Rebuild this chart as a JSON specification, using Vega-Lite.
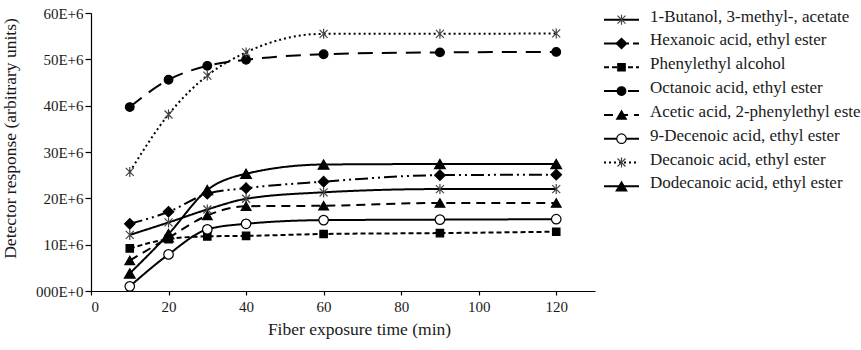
{
  "$schema": "https://vega.github.io/schema/vega-lite/v6.json",
  "padding": {"left": 0, "top": 6, "right": 0, "bottom": 4},
  "spacing": 8,
  "config": {
    "view": {"stroke": null},
    "font": "'Liberation Serif', 'DejaVu Serif', serif",
    "text": {"font": "'Liberation Serif', 'DejaVu Serif', serif"},
    "axis": {
      "labelFont": "'Liberation Serif', 'DejaVu Serif', serif",
      "titleFont": "'Liberation Serif', 'DejaVu Serif', serif",
      "labelFontSize": 15,
      "titleFontSize": 17.5,
      "titleFontWeight": "normal",
      "labelColor": "#1a1a1a",
      "titleColor": "#1a1a1a",
      "domainColor": "#000000",
      "domainWidth": 1.2,
      "tickColor": "#000000",
      "tickWidth": 1.2,
      "grid": false
    }
  },
  "datasets": {
    "measurements": [
      {"series": "1-Butanol, 3-methyl-, acetate", "time": 10, "response": 12100000},
      {"series": "1-Butanol, 3-methyl-, acetate", "time": 20, "response": 14800000},
      {"series": "1-Butanol, 3-methyl-, acetate", "time": 30, "response": 17600000},
      {"series": "1-Butanol, 3-methyl-, acetate", "time": 40, "response": 19900000},
      {"series": "1-Butanol, 3-methyl-, acetate", "time": 60, "response": 21300000},
      {"series": "1-Butanol, 3-methyl-, acetate", "time": 90, "response": 22000000},
      {"series": "1-Butanol, 3-methyl-, acetate", "time": 120, "response": 22000000},
      {"series": "Hexanoic acid, ethyl ester", "time": 10, "response": 14500000},
      {"series": "Hexanoic acid, ethyl ester", "time": 20, "response": 17100000},
      {"series": "Hexanoic acid, ethyl ester", "time": 30, "response": 21000000},
      {"series": "Hexanoic acid, ethyl ester", "time": 40, "response": 22200000},
      {"series": "Hexanoic acid, ethyl ester", "time": 60, "response": 23600000},
      {"series": "Hexanoic acid, ethyl ester", "time": 90, "response": 25000000},
      {"series": "Hexanoic acid, ethyl ester", "time": 120, "response": 25100000},
      {"series": "Phenylethyl alcohol", "time": 10, "response": 9200000},
      {"series": "Phenylethyl alcohol", "time": 20, "response": 11200000},
      {"series": "Phenylethyl alcohol", "time": 30, "response": 11800000},
      {"series": "Phenylethyl alcohol", "time": 40, "response": 11900000},
      {"series": "Phenylethyl alcohol", "time": 60, "response": 12300000},
      {"series": "Phenylethyl alcohol", "time": 90, "response": 12500000},
      {"series": "Phenylethyl alcohol", "time": 120, "response": 12800000},
      {"series": "Octanoic acid, ethyl ester", "time": 10, "response": 39700000},
      {"series": "Octanoic acid, ethyl ester", "time": 20, "response": 45600000},
      {"series": "Octanoic acid, ethyl ester", "time": 30, "response": 48600000},
      {"series": "Octanoic acid, ethyl ester", "time": 40, "response": 49900000},
      {"series": "Octanoic acid, ethyl ester", "time": 60, "response": 51100000},
      {"series": "Octanoic acid, ethyl ester", "time": 90, "response": 51500000},
      {"series": "Octanoic acid, ethyl ester", "time": 120, "response": 51600000},
      {"series": "Acetic acid, 2-phenylethyl ester", "time": 10, "response": 6600000},
      {"series": "Acetic acid, 2-phenylethyl ester", "time": 20, "response": 11500000},
      {"series": "Acetic acid, 2-phenylethyl ester", "time": 30, "response": 16300000},
      {"series": "Acetic acid, 2-phenylethyl ester", "time": 40, "response": 18300000},
      {"series": "Acetic acid, 2-phenylethyl ester", "time": 60, "response": 18400000},
      {"series": "Acetic acid, 2-phenylethyl ester", "time": 90, "response": 19000000},
      {"series": "Acetic acid, 2-phenylethyl ester", "time": 120, "response": 19000000},
      {"series": "9-Decenoic acid, ethyl ester", "time": 10, "response": 1000000},
      {"series": "9-Decenoic acid, ethyl ester", "time": 20, "response": 7900000},
      {"series": "9-Decenoic acid, ethyl ester", "time": 30, "response": 13300000},
      {"series": "9-Decenoic acid, ethyl ester", "time": 40, "response": 14500000},
      {"series": "9-Decenoic acid, ethyl ester", "time": 60, "response": 15300000},
      {"series": "9-Decenoic acid, ethyl ester", "time": 90, "response": 15400000},
      {"series": "9-Decenoic acid, ethyl ester", "time": 120, "response": 15500000},
      {"series": "Decanoic acid, ethyl ester", "time": 10, "response": 25700000},
      {"series": "Decanoic acid, ethyl ester", "time": 20, "response": 38100000},
      {"series": "Decanoic acid, ethyl ester", "time": 30, "response": 46500000},
      {"series": "Decanoic acid, ethyl ester", "time": 40, "response": 51500000},
      {"series": "Decanoic acid, ethyl ester", "time": 60, "response": 55500000},
      {"series": "Decanoic acid, ethyl ester", "time": 90, "response": 55500000},
      {"series": "Decanoic acid, ethyl ester", "time": 120, "response": 55600000},
      {"series": "Dodecanoic acid, ethyl ester", "time": 10, "response": 3800000},
      {"series": "Dodecanoic acid, ethyl ester", "time": 20, "response": 12300000},
      {"series": "Dodecanoic acid, ethyl ester", "time": 30, "response": 21800000},
      {"series": "Dodecanoic acid, ethyl ester", "time": 40, "response": 25300000},
      {"series": "Dodecanoic acid, ethyl ester", "time": 60, "response": 27300000},
      {"series": "Dodecanoic acid, ethyl ester", "time": 90, "response": 27400000},
      {"series": "Dodecanoic acid, ethyl ester", "time": 120, "response": 27400000}
    ]
  },
  "hconcat": [
    {
      "width": 504,
      "height": 278,
      "data": {"name": "measurements"},
      "encoding": {
        "x": {
          "field": "time",
          "type": "quantitative",
          "scale": {"domain": [0, 130], "nice": false, "zero": false},
          "axis": {
            "title": "Fiber exposure time (min)",
            "values": [0, 20, 40, 60, 80, 100, 120],
            "tickSize": 4,
            "labelPadding": 4,
            "titlePadding": 6,
            "titleX": 268
          }
        },
        "y": {
          "field": "response",
          "type": "quantitative",
          "scale": {"domain": [0, 60000000], "nice": false},
          "axis": {
            "title": "Detector response (arbitrary units)",
            "values": [0, 10000000, 20000000, 30000000, 40000000, 50000000, 60000000],
            "labelExpr": "datum.value === 0 ? '000E+0' : format(datum.value / 1000000, 'd') + 'E+6'",
            "tickSize": 6,
            "labelPadding": 2,
            "titleX": -81,
            "titleY": 125,
            "titleBaseline": "middle"
          }
        }
      },
      "layer": [
        {
          "mark": {"type": "line", "interpolate": "monotone", "color": "#000000", "strokeWidth": 2},
          "encoding": {
            "detail": {"field": "series"},
            "strokeDash": {
              "field": "series",
              "legend": null,
              "scale": {
                "domain": ["1-Butanol, 3-methyl-, acetate", "Hexanoic acid, ethyl ester", "Phenylethyl alcohol", "Octanoic acid, ethyl ester", "Acetic acid, 2-phenylethyl ester", "9-Decenoic acid, ethyl ester", "Decanoic acid, ethyl ester", "Dodecanoic acid, ethyl ester"],
                "range": [[1, 0], [13, 4, 2, 4, 2, 4], [5, 3], [15, 9], [9, 6], [1, 0], [2, 3], [1, 0]]
              }
            }
          }
        },
        {
          "mark": {"type": "point", "strokeWidth": 1.2, "opacity": 1},
          "encoding": {
            "shape": {
              "field": "series",
              "legend": null,
              "scale": {
                "domain": ["1-Butanol, 3-methyl-, acetate", "Hexanoic acid, ethyl ester", "Phenylethyl alcohol", "Octanoic acid, ethyl ester", "Acetic acid, 2-phenylethyl ester", "9-Decenoic acid, ethyl ester", "Decanoic acid, ethyl ester", "Dodecanoic acid, ethyl ester"],
                "range": ["M-0.8,-0.8L0.8,0.8M-0.8,0.8L0.8,-0.8M0,-1L0,1", "diamond", "square", "circle", "triangle-up", "circle", "M-0.8,-0.8L0.8,0.8M-0.8,0.8L0.8,-0.8M0,-1L0,1", "triangle-up"]
              }
            },
            "fill": {
              "field": "series",
              "legend": null,
              "scale": {
                "domain": ["1-Butanol, 3-methyl-, acetate", "Hexanoic acid, ethyl ester", "Phenylethyl alcohol", "Octanoic acid, ethyl ester", "Acetic acid, 2-phenylethyl ester", "9-Decenoic acid, ethyl ester", "Decanoic acid, ethyl ester", "Dodecanoic acid, ethyl ester"],
                "range": ["transparent", "#000000", "#000000", "#000000", "#000000", "#ffffff", "transparent", "#000000"]
              }
            },
            "stroke": {
              "field": "series",
              "legend": null,
              "scale": {
                "domain": ["1-Butanol, 3-methyl-, acetate", "Hexanoic acid, ethyl ester", "Phenylethyl alcohol", "Octanoic acid, ethyl ester", "Acetic acid, 2-phenylethyl ester", "9-Decenoic acid, ethyl ester", "Decanoic acid, ethyl ester", "Dodecanoic acid, ethyl ester"],
                "range": ["#444444", "#000000", "#000000", "#000000", "#000000", "#000000", "#444444", "#000000"]
              }
            },
            "size": {
              "field": "series",
              "legend": null,
              "scale": {
                "type": "ordinal",
                "domain": ["1-Butanol, 3-methyl-, acetate", "Hexanoic acid, ethyl ester", "Phenylethyl alcohol", "Octanoic acid, ethyl ester", "Acetic acid, 2-phenylethyl ester", "9-Decenoic acid, ethyl ester", "Decanoic acid, ethyl ester", "Dodecanoic acid, ethyl ester"],
                "range": [100, 110, 55, 75, 95, 90, 100, 115]
              }
            }
          }
        }
      ]
    },
    {
      "width": 35,
      "height": 180,
      "data": {"name": "measurements"},
      "transform": [{"filter": "datum.time === 120"}],
      "encoding": {
        "y": {
          "field": "series",
          "type": "nominal",
          "sort": ["1-Butanol, 3-methyl-, acetate", "Hexanoic acid, ethyl ester", "Phenylethyl alcohol", "Octanoic acid, ethyl ester", "Acetic acid, 2-phenylethyl ester", "9-Decenoic acid, ethyl ester", "Decanoic acid, ethyl ester", "Dodecanoic acid, ethyl ester"],
          "scale": {"type": "point", "padding": 0.28},
          "axis": null
        }
      },
      "layer": [
        {
          "mark": {"type": "rule", "color": "#000000", "strokeWidth": 2},
          "encoding": {
            "x": {"datum": 0, "type": "quantitative", "scale": {"domain": [0, 1], "nice": false}, "axis": null},
            "x2": {"datum": 1},
            "strokeDash": {
              "field": "series",
              "legend": null,
              "scale": {
                "domain": ["1-Butanol, 3-methyl-, acetate", "Hexanoic acid, ethyl ester", "Phenylethyl alcohol", "Octanoic acid, ethyl ester", "Acetic acid, 2-phenylethyl ester", "9-Decenoic acid, ethyl ester", "Decanoic acid, ethyl ester", "Dodecanoic acid, ethyl ester"],
                "range": [[1, 0], [13, 4, 2, 4, 2, 4], [5, 3], [15, 9], [9, 6], [1, 0], [2, 3], [1, 0]]
              }
            }
          }
        },
        {
          "mark": {"type": "point", "strokeWidth": 1.2, "opacity": 1},
          "encoding": {
            "x": {"datum": 0.5, "type": "quantitative"},
            "shape": {
              "field": "series",
              "legend": null,
              "scale": {
                "domain": ["1-Butanol, 3-methyl-, acetate", "Hexanoic acid, ethyl ester", "Phenylethyl alcohol", "Octanoic acid, ethyl ester", "Acetic acid, 2-phenylethyl ester", "9-Decenoic acid, ethyl ester", "Decanoic acid, ethyl ester", "Dodecanoic acid, ethyl ester"],
                "range": ["M-0.8,-0.8L0.8,0.8M-0.8,0.8L0.8,-0.8M0,-1L0,1", "diamond", "square", "circle", "triangle-up", "circle", "M-0.8,-0.8L0.8,0.8M-0.8,0.8L0.8,-0.8M0,-1L0,1", "triangle-up"]
              }
            },
            "fill": {
              "field": "series",
              "legend": null,
              "scale": {
                "domain": ["1-Butanol, 3-methyl-, acetate", "Hexanoic acid, ethyl ester", "Phenylethyl alcohol", "Octanoic acid, ethyl ester", "Acetic acid, 2-phenylethyl ester", "9-Decenoic acid, ethyl ester", "Decanoic acid, ethyl ester", "Dodecanoic acid, ethyl ester"],
                "range": ["transparent", "#000000", "#000000", "#000000", "#000000", "#ffffff", "transparent", "#000000"]
              }
            },
            "stroke": {
              "field": "series",
              "legend": null,
              "scale": {
                "domain": ["1-Butanol, 3-methyl-, acetate", "Hexanoic acid, ethyl ester", "Phenylethyl alcohol", "Octanoic acid, ethyl ester", "Acetic acid, 2-phenylethyl ester", "9-Decenoic acid, ethyl ester", "Decanoic acid, ethyl ester", "Dodecanoic acid, ethyl ester"],
                "range": ["#444444", "#000000", "#000000", "#000000", "#000000", "#000000", "#444444", "#000000"]
              }
            },
            "size": {
              "field": "series",
              "legend": null,
              "scale": {
                "type": "ordinal",
                "domain": ["1-Butanol, 3-methyl-, acetate", "Hexanoic acid, ethyl ester", "Phenylethyl alcohol", "Octanoic acid, ethyl ester", "Acetic acid, 2-phenylethyl ester", "9-Decenoic acid, ethyl ester", "Decanoic acid, ethyl ester", "Dodecanoic acid, ethyl ester"],
                "range": [100, 110, 55, 75, 95, 90, 100, 115]
              }
            }
          }
        },
        {
          "mark": {"type": "text", "align": "left", "baseline": "alphabetic", "dx": 11, "dy": 2, "fontSize": 17, "font": "'Liberation Serif', 'DejaVu Serif', serif", "color": "#1a1a1a"},
          "encoding": {
            "x": {"datum": 1, "type": "quantitative"},
            "text": {"field": "series"}
          }
        }
      ]
    }
  ]
}
